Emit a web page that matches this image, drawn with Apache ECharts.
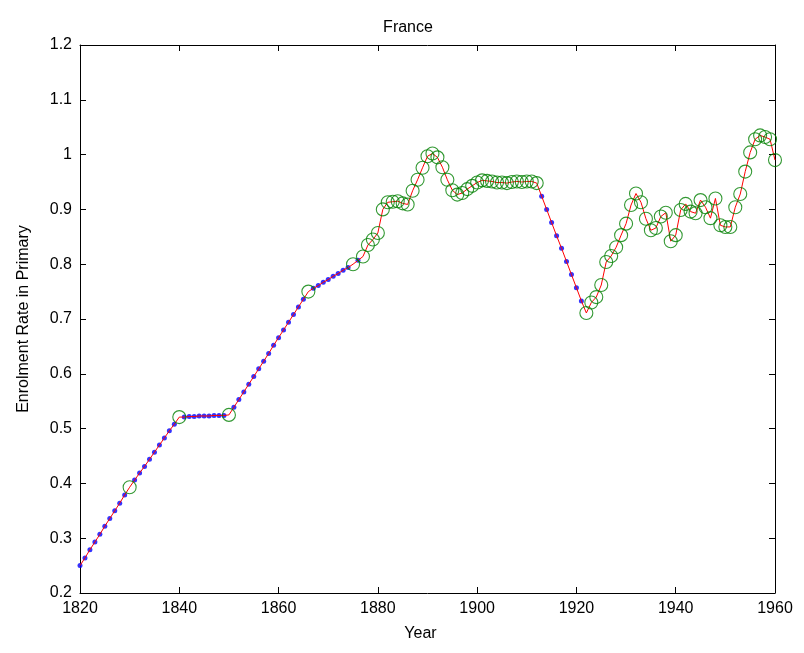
<!DOCTYPE html>
<html>
<head>
<meta charset="utf-8">
<script src="https://cdn.jsdelivr.net/npm/echarts@6/dist/echarts.min.js"></script>
<style>
html,body{margin:0;padding:0;background:#fff;}
#chart{width:804px;height:653px;}
</style>
</head>
<body>
<div id="chart"></div>
<script>
// Observed years (green circles)
var observedYears = [1830,1840,1850,1866,1875,1877,1878,1879,1880,1881,1882,1883,1884,1885,1886,1887,1888,1889,1890,1891,1892,1893,1894,1895,1896,1897,1898,1899,1900,1901,1902,1903,1904,1905,1906,1907,1908,1909,1910,1911,1912,
  1922,1923,1924,1925,1926,1927,1928,1929,1930,1931,1932,1933,1934,1935,1936,1937,1938,1939,1940,1941,1942,1943,1944,1945,1946,1947,1948,1949,1950,1951,1952,1953,1954,1955,1956,1957,1958,1959,1960];
var observedValues = [0.393,0.521,0.525,0.750,0.800,0.814,0.835,0.845,0.857,0.900,0.913,0.914,0.915,0.911,0.909,0.934,0.954,0.976,0.997,1.002,0.995,0.977,0.954,0.935,0.927,0.930,0.937,0.943,0.949,0.953,0.952,0.951,0.949,0.949,0.948,0.950,0.951,0.950,0.951,0.951,0.948,
  0.711,0.730,0.740,0.762,0.804,0.815,0.831,0.853,0.874,0.908,0.929,0.913,0.883,0.862,0.866,0.887,0.894,0.842,0.853,0.899,0.910,0.896,0.893,0.917,0.904,0.884,0.920,0.871,0.868,0.868,0.904,0.928,0.969,1.004,1.028,1.035,1.032,1.028,0.990];

// Filled-in years (blue dots)
var filledYears = [1820,1821,1822,1823,1824,1825,1826,1827,1828,1829,
  1831,1832,1833,1834,1835,1836,1837,1838,1839,
  1841,1842,1843,1844,1845,1846,1847,1848,1849,
  1851,1852,1853,1854,1855,1856,1857,1858,1859,1860,1861,1862,1863,1864,1865,
  1867,1868,1869,1870,1871,1872,1873,1874,
  1876,
  1913,1914,1915,1916,1917,1918,1919,1920,1921];
var filledValues = [0.250,0.264,0.279,0.293,0.307,0.322,0.336,0.350,0.364,0.379,
  0.406,0.419,0.431,0.444,0.457,0.470,0.483,0.496,0.508,
  0.521,0.522,0.522,0.523,0.523,0.523,0.524,0.524,0.524,
  0.539,0.553,0.567,0.581,0.595,0.609,0.623,0.637,0.652,0.666,0.680,0.694,0.708,0.722,0.736,
  0.756,0.761,0.767,0.772,0.778,0.783,0.789,0.794,
  0.807,
  0.924,0.900,0.876,0.852,0.829,0.805,0.781,0.757,0.733];

var xTicks = [1820,1840,1860,1880,1900,1920,1940,1960];
var yTicks = [0.2,0.3,0.4,0.5,0.6,0.7,0.8,0.9,1,1.1,1.2];

var titleText = 'France';
var xName = 'Year';
var yName = 'Enrolment Rate in Primary';

function pairs(xs, ys){ return xs.map(function(x,i){ return [x, ys[i]]; }); }
var observedPts = pairs(observedYears, observedValues);
var filledPts = pairs(filledYears, filledValues);
var allPts = observedPts.concat(filledPts).sort(function(a,b){ return a[0]-b[0]; });

var font = 'Liberation Sans, Arial, Helvetica, sans-serif';
var chart = echarts.init(document.getElementById('chart'), null, {renderer:'canvas'});

var tickStyle = {show:true, inside:true, length:6, lineStyle:{color:'#000', width:1}};
var lineStyle = {color:'#000', width:1};

chart.setOption({
  backgroundColor:'#fff',
  animation:false,
  title:{
    text:titleText, left:403, top:15, textAlign:'center',
    textStyle:{fontFamily:font, fontSize:16, fontWeight:'normal', color:'#000'}
  },
  grid:{left:80, right:29, top:45, bottom:60, containLabel:false},
  xAxis:[{
    type:'value', min:xTicks[0], max:xTicks[xTicks.length-1], interval:20,
    name:xName, nameLocation:'middle', nameGap:33,
    nameTextStyle:{fontFamily:font, fontSize:16, color:'#000', padding:[0,14,0,0]},
    axisLine:{show:true, lineStyle:lineStyle},
    axisTick:tickStyle,
    axisLabel:{fontFamily:font, fontSize:16, color:'#000', margin:8,
      formatter:function(v){ return String(v); }},
    splitLine:{show:false}
  },{
    type:'value', position:'top', min:xTicks[0], max:xTicks[xTicks.length-1], interval:20,
    axisLine:{show:true, lineStyle:lineStyle},
    axisTick:tickStyle, axisLabel:{show:false}, splitLine:{show:false}
  }],
  yAxis:[{
    type:'value', min:0.2, max:1.2, interval:0.1,
    name:yName, nameLocation:'middle', nameGap:48,
    nameTextStyle:{fontFamily:font, fontSize:16, color:'#000'},
    axisLine:{show:true, lineStyle:lineStyle},
    axisTick:tickStyle,
    axisLabel:{fontFamily:font, fontSize:16, color:'#000', margin:8,
      formatter:function(v){ return String(+v.toFixed(1)); }},
    splitLine:{show:false}
  },{
    type:'value', position:'right', min:0.2, max:1.2, interval:0.1,
    axisLine:{show:true, lineStyle:lineStyle},
    axisTick:tickStyle, axisLabel:{show:false}, splitLine:{show:false}
  }],
  series:[
    {
      type:'scatter', data:filledPts, symbol:'circle', symbolSize:5,
      itemStyle:{color:'#0000ff'}, z:2, silent:true
    },
    {
      type:'line', data:allPts, showSymbol:false, symbol:'none',
      lineStyle:{color:'#ff0000', width:1}, z:3, silent:true
    },
    {
      type:'scatter', data:observedPts, symbol:'circle', symbolSize:13,
      itemStyle:{color:'rgba(0,0,0,0)', borderColor:'#008000', borderWidth:1.1}, z:4, silent:true
    }
  ]
});
</script>
</body>
</html>
